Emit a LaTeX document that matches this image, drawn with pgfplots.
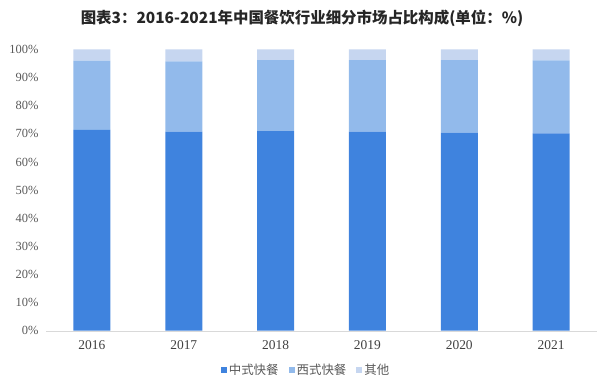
\documentclass[border=0pt]{standalone}
\usepackage{pgfplots}
\pgfplotsset{compat=1.18}
\usepackage{fontspec}
\setmainfont{Liberation Serif}
\newfontfamily\cjk{Noto Sans CJK SC}
\definecolor{cA}{RGB}{63,131,222}
\definecolor{cB}{RGB}{146,186,235}
\definecolor{cC}{RGB}{198,214,240}
\definecolor{tgray}{RGB}{89,89,89}
\begin{document}
\begin{tikzpicture}
\path[use as bounding box] (-46bp,-54.3bp) rectangle (554bp,330.7bp);
\begin{axis}[
  at={(0,0)}, anchor=south west,
  scale only axis, width=551bp, height=281.2bp,
  ybar stacked, bar width=37bp,
  xmin=-0.5, xmax=5.5, ymin=0, ymax=100,
  xtick={0,1,2,3,4,5},
  xticklabels={2016,2017,2018,2019,2020,2021},
  ytick={0,10,...,100},
  yticklabel={\pgfmathprintnumber{\tick}\%},
  /pgf/number format/assume math mode=true,
  axis x line=bottom, axis y line=left,
  x axis line style={draw=black!15, -},
  y axis line style={draw=none},
  major tick length=0pt,
  yticklabel style={font=\fontsize{12.5}{14}\selectfont, text=tgray, xshift=-4bp},
  xticklabel style={font=\fontsize{13.5}{15}\selectfont, text=black!75, yshift=-6bp},
  legend style={at={(0.472,-0.14)}, anchor=center, draw=none, fill=none,
    legend columns=3, font=\cjk\fontsize{12.5}{14}\selectfont, text=tgray,
    /tikz/every even column/.append style={column sep=8bp}},
  legend image code/.code={\fill[#1] (0bp,-3bp) rectangle (6bp,3bp);},
]
\addplot[fill=cA, draw=none] coordinates {(0,71.4) (1,70.8) (2,71.0) (3,70.8) (4,70.4) (5,70.2)};
\addplot[fill=cB, draw=none] coordinates {(0,24.6) (1,25.0) (2,25.2) (3,25.4) (4,25.8) (5,25.9)};
\addplot[fill=cC, draw=none] coordinates {(0,4.0) (1,4.2) (2,3.8) (3,3.8) (4,3.8) (5,3.9)};
\legend{中式快餐,西式快餐,其他}
\end{axis}
\node[font=\cjk\bfseries\fontsize{15.5}{18}\selectfont, text=black!85] at (256bp,312.7bp) {图表3：2016-2021年中国餐饮行业细分市场占比构成(单位：\%)};
\end{tikzpicture}
\end{document}
